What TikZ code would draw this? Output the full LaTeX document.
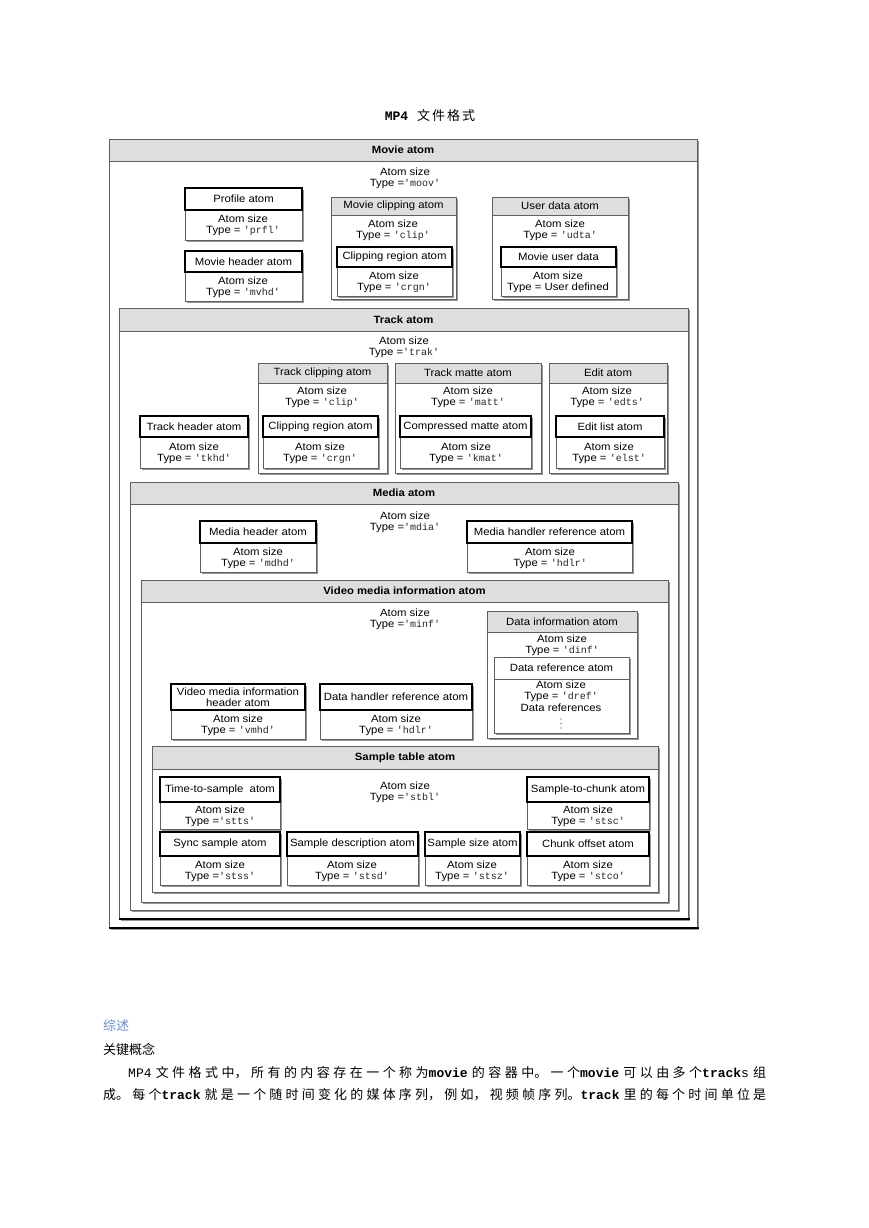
\documentclass[tikz,border=0pt]{standalone}
\usepackage{fontspec}
\setmainfont{Liberation Sans}[FakeStretch=1.08]
\newfontfamily\cjk{Noto Sans CJK SC}
\newfontfamily\mono{Liberation Mono}[Ligatures=TeXOff]
\XeTeXlinebreaklocale "zh"
\XeTeXlinebreakskip=0pt plus 4pt
\definecolor{headgray}{RGB}{222,222,222}
\definecolor{framegray}{RGB}{95,95,95}
\definecolor{shadegray}{RGB}{150,150,150}
\definecolor{headblue}{RGB}{110,140,200}
\newcommand\tc[1]{{\mono\fontsize{10}{11}\selectfont\color{black!85}'#1'}}
\newcommand\bmo[1]{{\mono\bfseries #1}}
\tikzset{
  shadowc/.style={fill=shadegray},
  cbody/.style={draw=framegray, line width=0.9pt, fill=white},
  chead/.style={draw=framegray, line width=0.9pt, fill=headgray},
  whead/.style={draw=framegray, line width=0.9pt, fill=white},
  lhead/.style={draw=black, line width=2pt, fill=white},
  lbl/.style={font=\fontsize{10.5}{11.4}\selectfont, align=center, inner sep=0pt},
  cjktext/.style={font=\cjk\fontsize{13}{15}\selectfont, anchor=west, inner sep=0pt},
  dotc/.style={fill=black!80}
}
% #1 header style, #2 name, #3 x1, #4 y1, #5 x2, #6 y header bottom, #7 y2, #8 title
\newcommand\contbox[8][chead]{%
  \fill[shadowc] ({#3+2},{#4+2}) rectangle ({#5+2},{#7+2});
  \draw[cbody] (#3,#4) rectangle (#5,#7);
  \draw[#1] (#3,#4) rectangle (#5,#6);
  \node[lbl] (#2) at ({(#3+#5)/2},{(#4+#6)/2}) {#8};}
% #1 name, #2 x1, #3 y1, #4 x2, #5 y header bottom, #6 y2, #7 title
\newcommand\leafbox[7]{%
  \fill[shadowc] ({#2+2},{#3+2}) rectangle ({#4+2},{#6+2});
  \draw[cbody] (#2,#3) rectangle (#4,#6);
  \draw[lhead] (#2,#3) rectangle (#4,#5);
  \node[lbl] (#1) at ({(#2+#4)/2},{(#3+#5)/2}) {#7};}
\newcommand\pline[2]{\parbox{#1}{\parindent0pt\parfillskip0pt\relax #2\par}}
\begin{document}
\begin{tikzpicture}[x=1pt,y=-1pt]
\fill[white] (0,0) rectangle (869,1228);
\useasboundingbox (0,0) rectangle (869,1228);

% title
\node[inner sep=0pt, font=\fontsize{13}{15}\selectfont] (title) at (430,116) {{\mono\bfseries MP4}\hspace{9pt}{\cjk\makebox[58pt][s]{文\hfil 件\hfil 格\hfil 式}}};

% ===== Movie atom =====
\contbox{movie}{109}{139}{697}{161}{928}{\bfseries Movie atom}
\node[lbl] (t-moov) at (405,178) {Atom size\\Type =\tc{moov}};
\leafbox{prfl}{185}{188}{302}{210}{240}{Profile atom}
\node[lbl] (t-prfl) at (243,225.5) {Atom size\\Type = \tc{prfl}};
\leafbox{mvhd}{185}{251}{302}{272}{301}{Movie header atom}
\node[lbl] (t-mvhd) at (243,287) {Atom size\\Type = \tc{mvhd}};
\contbox{mclip}{331}{197}{456}{215}{299}{Movie clipping atom}
\node[lbl] (t-mclip) at (393,230) {Atom size\\Type = \tc{clip}};
\leafbox{mcrgn}{337}{247}{452}{267}{296}{Clipping region atom}
\node[lbl] (t-mcrgn) at (394,282.5) {Atom size\\Type = \tc{crgn}};
\contbox{udta}{492}{197}{628}{215}{299}{User data atom}
\node[lbl] (t-udta) at (560,230) {Atom size\\Type = \tc{udta}};
\leafbox{mud}{501}{247}{616}{267}{296}{Movie user data}
\node[lbl] (t-mud) at (558,282.5) {Atom size\\Type = User defined};

% ===== Track atom =====
\contbox{trak}{119}{308}{688}{331}{919}{\bfseries Track atom}
\node[lbl] (t-trak) at (404,347) {Atom size\\Type =\tc{trak}};
\leafbox{tkhd}{140}{416}{248}{437}{468}{Track header atom}
\node[lbl] (t-tkhd) at (194,453.5) {Atom size\\Type = \tc{tkhd}};
\contbox{tclip}{258}{363}{387}{383}{473}{Track clipping atom}
\node[lbl] (t-tclip) at (322,397) {Atom size\\Type = \tc{clip}};
\leafbox{tcrgn}{263}{416}{378}{437}{468}{Clipping region atom}
\node[lbl] (t-tcrgn) at (320,453.5) {Atom size\\Type = \tc{crgn}};
\contbox{matt}{395}{363}{541}{383}{473}{Track matte atom}
\node[lbl] (t-matt) at (468,397) {Atom size\\Type = \tc{matt}};
\leafbox{kmat}{400}{416}{531}{437}{468}{Compressed matte atom}
\node[lbl] (t-kmat) at (466,453.5) {Atom size\\Type = \tc{kmat}};
\contbox{edts}{549}{363}{667}{383}{473}{Edit atom}
\node[lbl] (t-edts) at (607,397) {Atom size\\Type = \tc{edts}};
\leafbox{elst}{556}{416}{664}{437}{468}{Edit list atom}
\node[lbl] (t-elst) at (609,453.5) {Atom size\\Type = \tc{elst}};

% ===== Media atom =====
\contbox{mdia}{130}{482}{678}{504}{910}{\bfseries Media atom}
\node[lbl] (t-mdia) at (405,522) {Atom size\\Type =\tc{mdia}};
\leafbox{mdhd}{200}{521}{316}{543}{572}{Media header atom}
\node[lbl] (t-mdhd) at (258,558.5) {Atom size\\Type = \tc{mdhd}};
\leafbox{mhdlr}{467}{521}{632}{543}{572}{Media handler reference atom}
\node[lbl] (t-mhdlr) at (550,558.5) {Atom size\\Type = \tc{hdlr}};

% ===== Video media information atom =====
\contbox{minf}{141}{580}{668}{602}{902}{\bfseries Video media information atom}
\node[lbl] (t-minf) at (405,619) {Atom size\\Type =\tc{minf}};
\contbox{dinf}{487}{611}{637}{632}{738}{Data information atom}
\node[lbl] (t-dinf) at (562,645) {Atom size\\Type = \tc{dinf}};
\contbox[whead]{dref}{494}{657}{629}{679}{733}{Data reference atom}
\node[lbl] (t-dref) at (561,696) {Atom size\\Type = \tc{dref}\\Data references};
\fill[dotc] (561,719) circle (0.7) (561,723.5) circle (0.7) (561,728) circle (0.7);
\leafbox{vmhd}{171}{684}{305}{710}{739}{\fontsize{10.5}{9.8}\selectfont Video media information\\header atom}
\node[lbl] (t-vmhd) at (238,725) {Atom size\\Type = \tc{vmhd}};
\leafbox{dhdlr}{320}{684}{472}{710}{739}{Data handler reference atom}
\node[lbl] (t-dhdlr) at (396,725) {Atom size\\Type = \tc{hdlr}};

% ===== Sample table atom =====
\contbox{stbl}{152}{746}{658}{769}{892}{\bfseries Sample table atom}
\node[lbl] (t-stbl) at (405,792) {Atom size\\Type =\tc{stbl}};
\leafbox{stts}{160}{777}{280}{802}{829}{Time-to-sample\ \ atom}
\node[lbl] (t-stts) at (220,816) {Atom size\\Type =\tc{stts}};
\leafbox{stsc}{527}{777}{649}{802}{829}{Sample-to-chunk atom}
\node[lbl] (t-stsc) at (588,816) {Atom size\\Type = \tc{stsc}};
\leafbox{stss}{160}{832}{280}{856}{885}{Sync sample atom}
\node[lbl] (t-stss) at (220,871) {Atom size\\Type =\tc{stss}};
\leafbox{stsd}{287}{832}{418}{856}{885}{Sample description atom}
\node[lbl] (t-stsd) at (352,871) {Atom size\\Type = \tc{stsd}};
\leafbox{stsz}{425}{832}{520}{856}{885}{Sample size atom}
\node[lbl] (t-stsz) at (472,871) {Atom size\\Type = \tc{stsz}};
\leafbox{stco}{527}{832}{649}{856}{885}{Chunk offset atom}
\node[lbl] (t-stco) at (588,871) {Atom size\\Type = \tc{stco}};

% heavy bottom edges of the outer boxes
\draw[line width=2.4pt] (109,928) -- (699,928);
\draw[line width=2pt] (119,919) -- (690,919);

% ===== text below =====
\node[cjktext, text=headblue] (zongshu) at (103,1025) {综述};
\node[cjktext] (gainian) at (103,1049) {关键概念};
\node[cjktext] (para1) at (128,1073) {\pline{638pt}{{\mono MP4} 文件格式中，所有的内容存在一个称为\bmo{movie} 的容器中。一个\bmo{movie} 可以由多个\bmo{track}{\mono s} 组}};
\node[cjktext] (para2) at (103,1095) {\pline{663pt}{成。每个\bmo{track} 就是一个随时间变化的媒体序列，例如，视频帧序列。\bmo{track} 里的每个时间单位是}};
\end{tikzpicture}
\end{document}
